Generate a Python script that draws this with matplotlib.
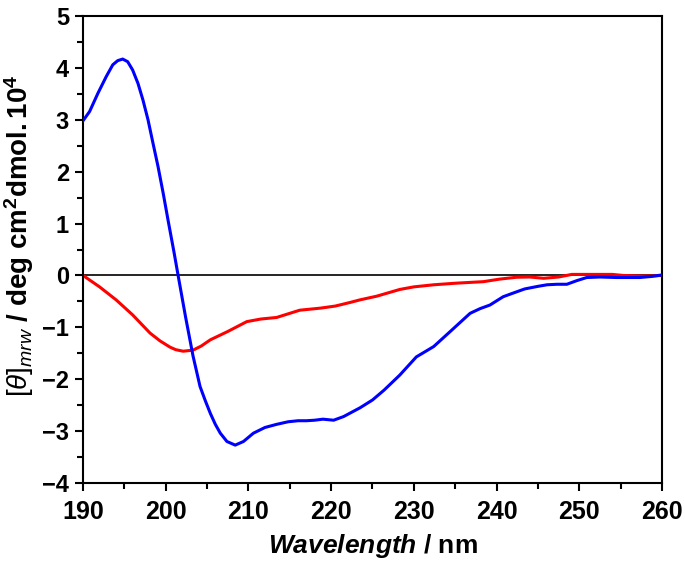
import matplotlib
matplotlib.use("Agg")
import matplotlib.pyplot as plt
from matplotlib.ticker import MultipleLocator

plt.rcParams['font.family'] = ['Liberation Sans', 'DejaVu Sans']
plt.rcParams['mathtext.fontset'] = 'custom'
plt.rcParams['mathtext.rm'] = 'Liberation Sans'
plt.rcParams['mathtext.it'] = 'Liberation Sans:italic'
plt.rcParams['mathtext.bf'] = 'Liberation Sans:bold'
plt.rcParams['mathtext.bfit'] = 'Liberation Sans:italic:bold'

# Blue spectrum
blue_wl = [190, 190.8, 191.8, 192.8, 193.6, 194.2, 194.8, 195.4, 196.0, 196.65, 197.25,
           197.86, 198.46, 199.07, 199.7, 200.3, 201.0, 201.5, 202.4, 203.3, 204.15, 204.8,
           205.4, 206.0, 206.6, 207.4, 208.4, 209.4, 210.6, 212.0, 213.4, 214.8, 216.0,
           217.0, 218.0, 219.0, 220.3, 221.5, 223.5, 225.0, 226.4, 228.3, 230.3, 232.4,
           234.4, 236.8, 238.0, 239.2, 240.8, 242.0, 243.4, 245.0, 246.1, 247.3, 248.5,
           249.7, 250.9, 252.5, 254.5, 256.0, 257.3, 258.7, 260]
blue_val = [2.98, 3.16, 3.51, 3.83, 4.06, 4.14, 4.17, 4.12, 3.96, 3.70, 3.38,
            3.00, 2.55, 2.10, 1.58, 1.05, 0.45, 0.00, -0.80, -1.55, -2.14, -2.42,
            -2.66, -2.87, -3.04, -3.20, -3.27, -3.20, -3.04, -2.93, -2.87, -2.82, -2.80,
            -2.80, -2.79, -2.77, -2.79, -2.72, -2.55, -2.40, -2.21, -1.92, -1.57, -1.37,
            -1.08, -0.73, -0.64, -0.57, -0.41, -0.34, -0.26, -0.21, -0.18, -0.17, -0.17,
            -0.10, -0.04, -0.03, -0.04, -0.04, -0.04, -0.02, 0.01]

# Red spectrum
red_wl = [190, 192, 194, 196, 198.1, 199.3, 200.5, 201.2, 202.1, 203.3, 204.3, 205.4, 207.5,
          209.8, 211.5, 213.4, 215.0, 216.2, 218.7, 220.5, 222.3, 223.5, 225.5, 228.3,
          230.0, 232.4, 235.0, 238.4, 240.4, 242.4, 244.0, 245.7, 247.5, 249.1, 250.5,
          252.4, 254.0, 255.3, 257.3, 258.7, 260]
red_val = [0.0, -0.22, -0.47, -0.76, -1.11, -1.26, -1.38, -1.43, -1.46, -1.44, -1.36, -1.24, -1.08,
           -0.89, -0.84, -0.81, -0.73, -0.67, -0.63, -0.59, -0.52, -0.47, -0.40, -0.27,
           -0.22, -0.18, -0.15, -0.12, -0.07, -0.035, -0.03, -0.055, -0.03, 0.02, 0.02,
           0.02, 0.02, 0.0, -0.01, -0.01, 0.0]

xticks = [190, 200, 210, 220, 230, 240, 250, 260]
yticks = [-4, -3, -2, -1, 0, 1, 2, 3, 4, 5]

fig = plt.figure(figsize=(6.85, 5.74), dpi=100)
ax = fig.add_axes([83/685, 1-483/574, (662-83)/685, (483-16)/574])

ax.axhline(0, color='black', lw=1.2, zorder=1)
ax.plot(red_wl, red_val, color='#ff0000', lw=2.2, zorder=2)
ax.plot(blue_wl, blue_val, color='#0000ff', lw=2.2, zorder=3)

ax.set_xlim(190, 260)
ax.set_ylim(-4, 5)
ax.set_xticks(xticks)
ax.set_yticks(yticks)
ax.xaxis.set_minor_locator(MultipleLocator(5))
ax.yaxis.set_minor_locator(MultipleLocator(0.5))

for s in ax.spines.values():
    s.set_linewidth(1.5)
ax.tick_params(which='major', direction='out', length=6, width=1.5, top=False, right=False)
ax.tick_params(which='minor', direction='out', length=4, width=1.5, top=False, right=False)
ax.tick_params(axis='x', labelsize=18, pad=6)
ax.tick_params(axis='y', labelsize=17, pad=4)
for lab in ax.get_xticklabels() + ax.get_yticklabels():
    lab.set_fontweight('bold')

ax.set_xlabel(r'$\mathbfit{Wavelength}$ $\mathbf{/\ nm}$', fontsize=19, labelpad=6)
ax.set_ylabel(r'$\mathit{[θ]_{mrw}}$ $\mathbf{/\ deg\ cm^{2}dmol.10^{4}}$', fontsize=20)
ax.yaxis.set_label_coords(-0.081, 0.529)

fig.savefig('out.png', dpi=100)
